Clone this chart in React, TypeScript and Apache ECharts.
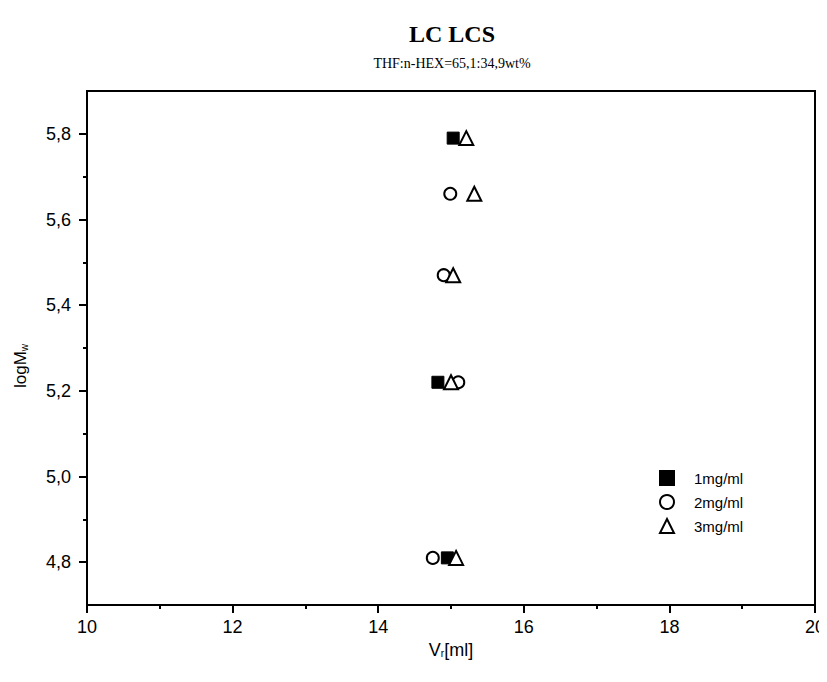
import React, { useEffect, useRef } from "react";
import * as echarts from "echarts";

const seriesNames = ["1mg/ml", "2mg/ml", "3mg/ml"];
const mg1: number[][] = [[15.03, 5.79], [14.82, 5.22], [14.95, 4.81]];
const mg2: number[][] = [[14.99, 5.66], [14.9, 5.47], [15.1, 5.22], [14.75, 4.81]];
const mg3: number[][] = [[15.21, 5.79], [15.32, 5.66], [15.03, 5.47], [15.0, 5.22], [15.07, 4.81]];
const yMajorTicks = [4.8, 5.0, 5.2, 5.4, 5.6, 5.8];
const yMinorTicks = [4.9, 5.1, 5.3, 5.5, 5.7];
const xRange = [10, 20];
const yRange = [4.7, 5.9];

export default function App() {
  const ref = useRef<HTMLDivElement>(null);
  useEffect(() => {
    if (!ref.current) return;
    const chart = echarts.init(ref.current, null, { renderer: "svg" });
    const sans = "'Liberation Sans', Arial, sans-serif";
    const serif = "'Liberation Serif', 'Times New Roman', serif";
    chart.setOption({
      animation: false,
      backgroundColor: "#fff",
      title: {
        text: "LC LCS",
        subtext: "THF:n-HEX=65,1:34,9wt%",
        left: 439,
        textAlign: "center",
        top: 9,
        itemGap: 10,
        textStyle: { fontFamily: serif, fontWeight: "bold", fontSize: 24, color: "#000" },
        subtextStyle: { fontFamily: serif, fontSize: 14, color: "#000" },
      },
      grid: {
        left: 79,
        right: 12,
        top: 83,
        bottom: 69,
        outerBoundsMode: "none",
        containLabel: false,
        show: true,
        borderColor: "#000",
        borderWidth: 2,
        backgroundColor: "transparent",
      },
      legend: {
        orient: "vertical",
        left: 646,
        top: 457,
        itemWidth: 14,
        itemHeight: 14,
        itemGap: 8,
        data: seriesNames,
        textStyle: { fontFamily: sans, fontSize: 15, color: "#000", padding: [0, 0, 0, 15] },
      },
      xAxis: {
        type: "value",
        min: xRange[0],
        max: xRange[1],
        interval: 2,
        name: "V{s|r}[ml]",
        nameLocation: "middle",
        nameGap: 34,
        nameTextStyle: {
          fontFamily: sans,
          fontSize: 18,
          color: "#000",
          rich: { s: { fontFamily: sans, fontSize: 10, verticalAlign: "bottom", padding: [8, 0, 0, 0], color: "#000" } },
        },
        axisLine: { show: true, lineStyle: { color: "#000", width: 2 } },
        axisTick: { show: true, length: 8, lineStyle: { color: "#000", width: 2 } },
        minorTick: { show: true, splitNumber: 2, length: 4, lineStyle: { color: "#000", width: 2 } },
        axisLabel: { fontFamily: sans, fontSize: 18, color: "#000", margin: 13 },
        splitLine: { show: false },
      },
      yAxis: [
        {
          type: "value",
          min: yRange[0],
          max: yRange[1],
          name: "logM{s|w}",
          nameLocation: "middle",
          nameRotate: 90,
          nameGap: 58,
          nameTextStyle: {
            fontFamily: sans,
            fontSize: 17,
            color: "#000",
            padding: [0, 36, 0, 0],
            rich: { s: { fontFamily: sans, fontSize: 10, verticalAlign: "bottom", padding: [8, 0, 0, 0], color: "#000" } },
          },
          axisLine: { show: true, lineStyle: { color: "#000", width: 2 } },
          axisTick: { show: true, length: 8, customValues: yMajorTicks, lineStyle: { color: "#000", width: 2 } },
          axisLabel: {
            fontFamily: sans,
            fontSize: 18,
            color: "#000",
            margin: 16,
            customValues: yMajorTicks,
            formatter: (v: number) => v.toFixed(1).replace(".", ","),
          },
          splitLine: { show: false },
        },
        {
          type: "value",
          min: yRange[0],
          max: yRange[1],
          position: "left",
          axisLine: { show: false },
          axisTick: { show: true, length: 4, customValues: yMinorTicks, lineStyle: { color: "#000", width: 2 } },
          axisLabel: { show: false },
          splitLine: { show: false },
        },
      ],
      series: [
        {
          name: seriesNames[0],
          type: "scatter",
          data: mg1,
          symbol: "rect",
          symbolSize: 12,
          itemStyle: { color: "#000", borderColor: "#000", borderWidth: 1, opacity: 1 },
          z: 3,
        },
        {
          name: seriesNames[1],
          type: "scatter",
          data: mg2,
          symbol: "circle",
          symbolSize: 12,
          itemStyle: { color: "#fff", borderColor: "#000", borderWidth: 2, opacity: 1 },
          z: 2,
        },
        {
          name: seriesNames[2],
          type: "scatter",
          data: mg3,
          symbol: "triangle",
          symbolSize: 14,
          itemStyle: { color: "#fff", borderColor: "#000", borderWidth: 2, opacity: 1 },
          z: 4,
        },
      ],
    });
    return () => chart.dispose();
  }, []);
  return <div ref={ref} style={{ width: 819, height: 666 }} />;
}
